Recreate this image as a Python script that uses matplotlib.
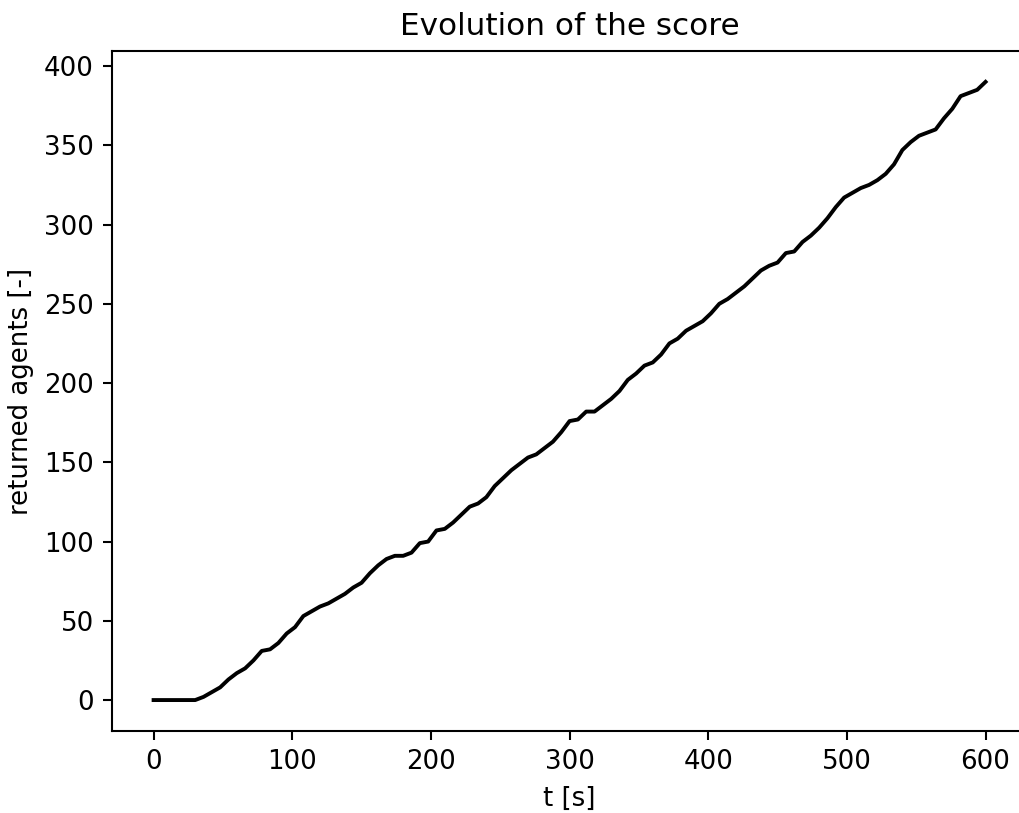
import numpy as np
import matplotlib
matplotlib.use("Agg")
import matplotlib.pyplot as plt

# time steps of 6 s, number of agents that came back
t = np.arange(0, 601, 6)
returned = [0, 0, 0, 0, 0, 0, 2, 5, 8, 13,
            17, 20, 25, 31, 32, 36, 42, 46, 53, 56,
            59, 61, 64, 67, 71, 74, 80, 85, 89, 91,
            91, 93, 99, 100, 107, 108, 112, 117, 122, 124,
            128, 135, 140, 145, 149, 153, 155, 159, 163, 169,
            176, 177, 182, 182, 186, 190, 195, 202, 206, 211,
            213, 218, 225, 228, 233, 236, 239, 244, 250, 253,
            257, 261, 266, 271, 274, 276, 282, 283, 289, 293,
            298, 304, 311, 317, 320, 323, 325, 328, 332, 338,
            347, 352, 356, 358, 360, 367, 373, 381, 383, 385,
            390]

dpi = 187
fig, ax = plt.subplots(figsize=(1020 / dpi, 813 / dpi), dpi=dpi)
# the right edge of the axes box is cut off in the original picture
fig.subplots_adjust(left=0.1098, right=1.007, top=0.9373, bottom=0.1009)

ax.plot(t, returned, color='black', linewidth=1.5)
ax.set_title('Evolution of the score')
ax.set_xlabel('t [s]')
ax.set_ylabel('returned agents [-]')

fig.savefig('out.png', dpi=dpi)
